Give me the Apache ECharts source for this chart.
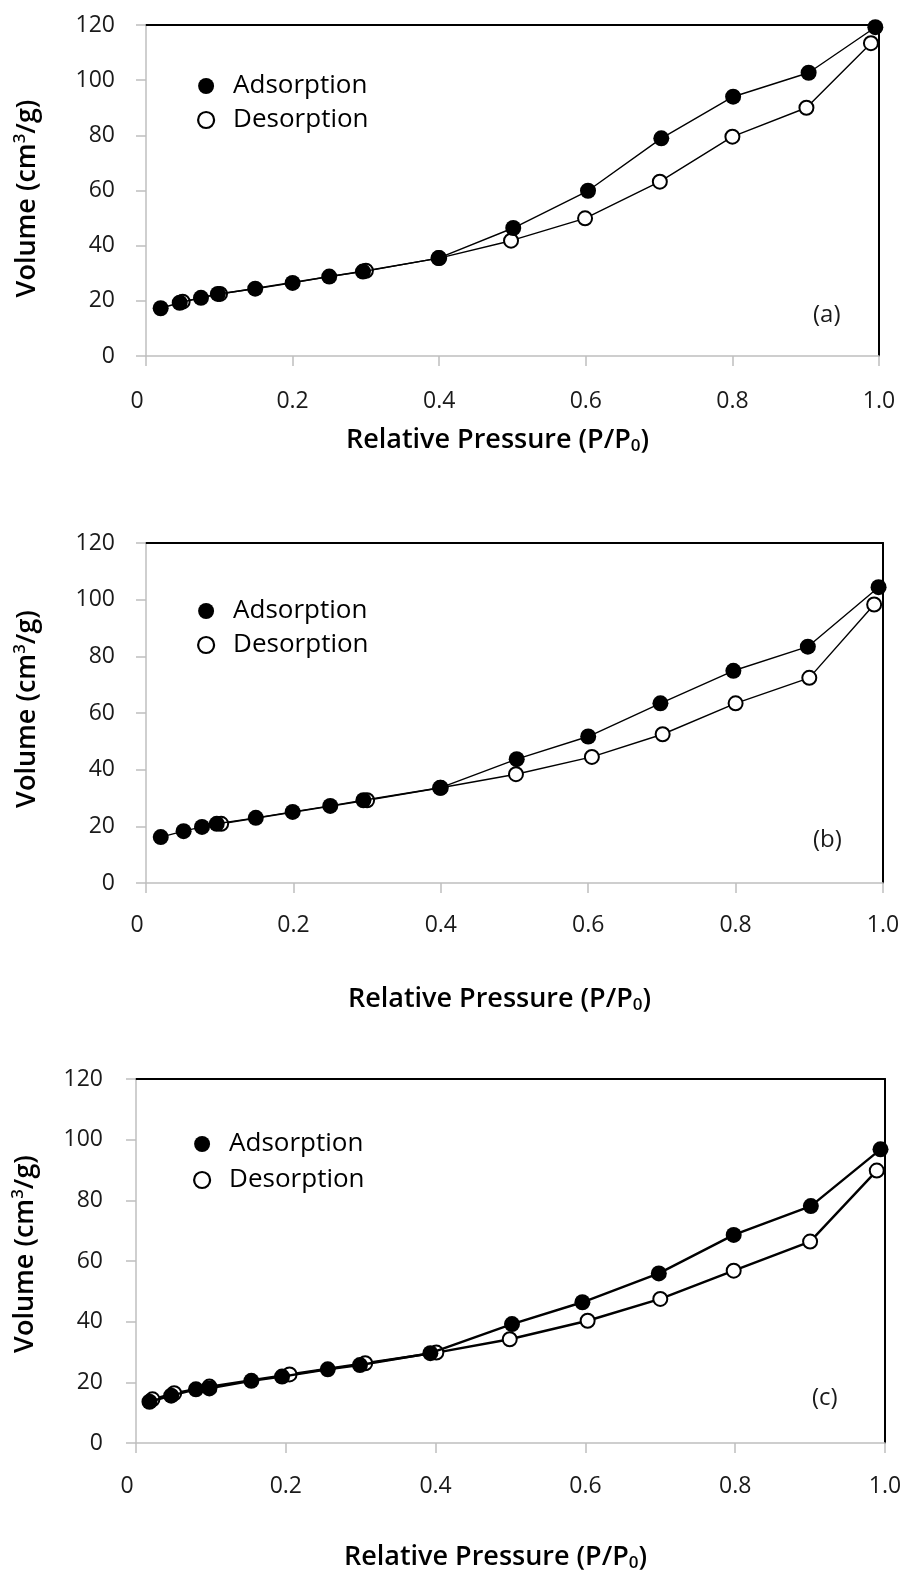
<!DOCTYPE html>
<html>
<head>
<meta charset="utf-8">
<script src="https://cdn.jsdelivr.net/npm/echarts@6/dist/echarts.min.js"></script>
<style>
  html, body { margin: 0; padding: 0; background: #fff; }
  #chart { width: 905px; height: 1573px; }
</style>
</head>
<body>
<div id="chart"></div>
<script>
// ---------- data ----------
const seriesNames = ['Adsorption', 'Desorption'];
const panelLabels = ['(a)', '(b)', '(c)'];
const yTicks = [0, 20, 40, 60, 80, 100, 120];
const xTickValues = [0, 0.2, 0.4, 0.6, 0.8, 1.0];
const xTickLabels = ['0', '0.2', '0.4', '0.6', '0.8', '1.0'];

// Panel (a)
const aAdsX = [0.020, 0.046, 0.075, 0.098, 0.149, 0.200, 0.250, 0.296, 0.399, 0.501, 0.603, 0.703, 0.801, 0.904, 0.995];
const aAdsY = [17.3, 19.3, 21.1, 22.5, 24.4, 26.5, 28.8, 30.6, 35.5, 46.4, 59.9, 78.9, 94.0, 102.7, 119.2];
const aDesX = [0.989, 0.901, 0.800, 0.701, 0.599, 0.498, 0.400, 0.300, 0.101, 0.050];
const aDesY = [113.4, 90.0, 79.5, 63.2, 49.9, 41.8, 35.5, 30.9, 22.5, 19.7];

// Panel (b)
const bAdsX = [0.020, 0.051, 0.076, 0.096, 0.149, 0.199, 0.250, 0.295, 0.399, 0.503, 0.600, 0.698, 0.797, 0.898, 0.994];
const bAdsY = [16.2, 18.3, 19.8, 20.9, 23.0, 25.1, 27.2, 29.2, 33.6, 43.7, 51.7, 63.4, 74.9, 83.4, 104.4];
const bDesX = [0.988, 0.900, 0.800, 0.701, 0.605, 0.502, 0.400, 0.300, 0.102];
const bDesY = [98.3, 72.4, 63.4, 52.5, 44.5, 38.4, 33.6, 29.2, 20.9];

// Panel (c)
const cAdsX = [0.018, 0.047, 0.080, 0.098, 0.154, 0.195, 0.256, 0.299, 0.393, 0.502, 0.596, 0.698, 0.798, 0.901, 0.994];
const cAdsY = [13.6, 15.6, 17.7, 18.0, 20.5, 21.9, 24.3, 25.7, 29.6, 39.2, 46.4, 55.9, 68.6, 78.1, 96.8];
const cDesX = [0.989, 0.900, 0.798, 0.700, 0.603, 0.499, 0.401, 0.306, 0.205, 0.098, 0.051, 0.022];
const cDesY = [89.8, 66.4, 56.8, 47.5, 40.3, 34.2, 29.8, 26.3, 22.6, 18.6, 16.4, 14.4];

// ---------- layout ----------
const zip = (xs, ys) => xs.map((x, i) => [x, ys[i]]);
const panels = [
  { ads: zip(aAdsX, aAdsY), des: zip(aDesX, aDesY),
    grid: { left: 146, top: 25, width: 733, height: 331 },
    lineW: 1.4, yLabelMargin: 31, xLabelMargin: 34, yNameGap: 104, xNameGap: 69, yNamePad: [0, 16, 0, 0],
    legend: { left: 197, top: 73, gap: 8 }, tag: { left: 813, top: 303 } },
  { ads: zip(bAdsX, bAdsY), des: zip(bDesX, bDesY),
    grid: { left: 146, top: 543, width: 737, height: 340 },
    lineW: 1.4, yLabelMargin: 31, xLabelMargin: 31, yNameGap: 104, xNameGap: 101, yNamePad: [0, 0, 0, 8],
    legend: { left: 197, top: 598, gap: 8 }, tag: { left: 813, top: 828 } },
  { ads: zip(cAdsX, cAdsY), des: zip(cDesX, cDesY),
    grid: { left: 136, top: 1079, width: 749, height: 364 },
    lineW: 2.4, yLabelMargin: 33, xLabelMargin: 32, yNameGap: 96, xNameGap: 99, yNamePad: [0, 0, 0, 14],
    legend: { left: 193, top: 1131, gap: 10 }, tag: { left: 812, top: 1386 } }
];

const FONT = "'Open Sans', 'Noto Sans', sans-serif";
const GRAY = '#bfbfbf';

const option = {
  animation: false,
  backgroundColor: '#fff',
  grid: [], xAxis: [], yAxis: [], series: [], legend: [], title: []
};

panels.forEach((p, i) => {
  option.grid.push(Object.assign({ containLabel: false }, p.grid));
  // bottom x axis
  option.xAxis.push({
    type: 'value', gridIndex: i, position: 'bottom', min: 0, max: 1, interval: 0.2,
    axisLine: { show: true, onZero: false, lineStyle: { color: GRAY, width: 1.5 } },
    axisTick: { show: true, inside: false, length: 10, lineStyle: { color: GRAY, width: 1.5 } },
    splitLine: { show: false },
    axisLabel: {
      margin: p.xLabelMargin, fontFamily: FONT, fontSize: 23, color: '#1a1a1a',
      formatter: v => {
        const k = xTickValues.findIndex(t => Math.abs(t - v) < 1e-9);
        const s = k >= 0 ? xTickLabels[k] : '';
        return v === 0 ? '{z|' + s + '}' : s;
      },
      rich: { z: { fontFamily: FONT, fontSize: 23, color: '#1a1a1a', padding: [0, 18, 0, 0] } }
    },
    name: 'Relative Pressure (P/P{sub|0})',
    nameLocation: 'middle', nameGap: p.xNameGap,
    nameTextStyle: {
      fontFamily: FONT, fontSize: 27, fontWeight: 600, color: '#000', lineHeight: 30,
      padding: [0, 30, 0, 0],
      rich: { sub: { fontFamily: FONT, fontSize: 17, fontWeight: 600, color: '#000', verticalAlign: 'bottom', lineHeight: 17 } }
    }
  });
  // top frame axis
  option.xAxis.push({
    type: 'value', gridIndex: i, position: 'top', min: 0, max: 1, interval: 0.2,
    axisLine: { show: true, onZero: false, lineStyle: { color: '#000', width: 2 } },
    axisTick: { show: false }, axisLabel: { show: false }, splitLine: { show: false }
  });
  // left y axis
  option.yAxis.push({
    type: 'value', gridIndex: i, position: 'left', min: 0, max: 120, interval: 20,
    axisLine: { show: true, onZero: false, lineStyle: { color: GRAY, width: 1.5 } },
    axisTick: { show: true, inside: false, length: 10, lineStyle: { color: GRAY, width: 1.5 } },
    splitLine: { show: false },
    axisLabel: {
      margin: p.yLabelMargin, fontFamily: FONT, fontSize: 23, color: '#1a1a1a',
      formatter: v => (yTicks.indexOf(v) >= 0 ? String(v) : '')
    },
    name: 'Volume (cm{sup|3}/g)',
    nameLocation: 'middle', nameGap: p.yNameGap, nameRotate: 90,
    nameTextStyle: {
      fontFamily: FONT, fontSize: 27, fontWeight: 600, color: '#000', lineHeight: 30,
      padding: p.yNamePad,
      rich: { sup: { fontFamily: FONT, fontSize: 17, fontWeight: 600, color: '#000', verticalAlign: 'top', lineHeight: 17 } }
    }
  });
  // right frame axis
  option.yAxis.push({
    type: 'value', gridIndex: i, position: 'right', min: 0, max: 120, interval: 20,
    axisLine: { show: true, onZero: false, lineStyle: { color: '#000', width: 2 } },
    axisTick: { show: false }, axisLabel: { show: false }, splitLine: { show: false }
  });

  const xi = i * 2, yi = i * 2;
  // desorption first (drawn under), adsorption on top
  option.series.push({
    name: seriesNames[1], type: 'line', xAxisIndex: xi, yAxisIndex: yi,
    data: p.des, symbol: 'circle', symbolSize: 14, showAllSymbol: true, clip: false,
    lineStyle: { color: '#000', width: p.lineW },
    itemStyle: { color: '#fff', borderColor: '#000', borderWidth: 2 },
    z: 2
  });
  option.series.push({
    name: seriesNames[0], type: 'line', xAxisIndex: xi, yAxisIndex: yi,
    data: p.ads, symbol: 'circle', symbolSize: 16, showAllSymbol: true, clip: false,
    lineStyle: { color: '#000', width: p.lineW },
    itemStyle: { color: '#000', borderColor: '#000', borderWidth: 0 },
    z: 3
  });

  option.legend.push({
    left: p.legend.left, top: p.legend.top, orient: 'vertical', padding: 0,
    itemWidth: 16, itemHeight: 16, itemGap: p.legend.gap, selectedMode: false,
    textStyle: { fontFamily: FONT, fontSize: 26, color: '#000', lineHeight: 26, padding: [0, 0, 0, 14] },
    data: [
      { name: seriesNames[0], icon: 'circle', itemStyle: { color: '#000', borderWidth: 0 } },
      { name: seriesNames[1], icon: 'circle', itemStyle: { color: '#fff', borderColor: '#000', borderWidth: 2.2 } }
    ]
  });

  option.title.push({
    text: panelLabels[i], left: p.tag.left, top: p.tag.top, padding: 0,
    textStyle: { fontFamily: FONT, fontSize: 24, fontWeight: 'normal', color: '#1a1a1a' }
  });
});

const chart = echarts.init(document.getElementById('chart'), null, { renderer: 'canvas', width: 905, height: 1573 });
chart.setOption(option);
</script>
</body>
</html>
